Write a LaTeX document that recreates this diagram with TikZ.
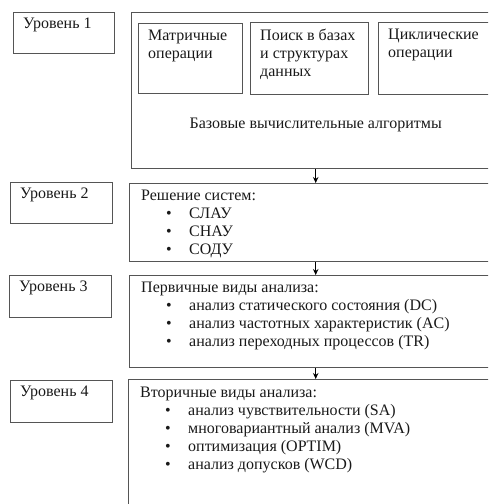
\documentclass[tikz,border=0pt]{standalone}
\usepackage{fontspec}
\setmainfont{Liberation Serif}
\usetikzlibrary{arrows.meta}
\definecolor{framegray}{RGB}{85,85,85}
\definecolor{textgray}{RGB}{25,25,25}
\tikzset{>={Stealth[length=6pt,width=5.5pt]}}
\tikzset{
  block/.style={draw=framegray, line width=1.4pt, rectangle, inner sep=0pt, anchor=north west},
  txt/.style={inner sep=0pt, text=textgray, anchor=base west, font=\fontsize{16}{18}\selectfont}
}
\newcommand{\bul}[1]{\makebox[23pt][l]{\textbullet}#1}

\begin{document}
\begin{tikzpicture}[x=1pt,y=-1pt]
    \useasboundingbox (0,0) rectangle (488,504);
    \clip (0,0) rectangle (488,504);
    % levels
    \node[block, minimum width=101pt, minimum height=41pt] (lev1) at (13,12) {};
    \node[block, minimum width=102pt, minimum height=41pt] (lev2) at (10,182) {};
    \node[block, minimum width=102pt, minimum height=42pt] (lev3) at (9,275) {};
    \node[block, minimum width=102pt, minimum height=42pt] (lev4) at (10,380) {};
    \foreach \n in {1,...,4}
        \node[txt] (levt\n) at ([shift={(10,16)}]lev\n.north west) {Уровень \n};
    % level 1
    \node[block, minimum width=368pt, minimum height=156pt] (base) at (131,12) {};
    \node[block, minimum width=104pt, minimum height=70pt] (matr) at (138,23) {};
    \node[block, minimum width=118pt, minimum height=72pt] (search) at (250,22) {};
    \node[block, minimum width=130pt, minimum height=72pt] (cycl) at (378,22) {};
    \node[txt, anchor=north west, align=left] (matrt) at ([shift={(10,6.5)}]matr.north west) {Матричные\\операции};
    \node[txt, anchor=north west, align=left] (searcht) at ([shift={(10,6.5)}]search.north west) {Поиск в базах\\и структурах\\данных};
    \node[txt, anchor=north west, align=left] (cyclt) at ([shift={(10,6.5)}]cycl.north west) {Циклические\\операции};
    \node[txt, anchor=base] (baset) at ([yshift=41pt]base.south) {Базовые вычислительные алгоритмы};
    % level 2
    \node[block, minimum width=372pt, minimum height=78pt] (sys) at (129,183) {};
    \node[txt] (syst) at ([shift={(12,17)}]sys.north west) {Решение систем:};
    \foreach \t [count=\i] in {СЛАУ,СНАУ,СОДУ}
        \node[txt] (sys\i) at ([shift={(37,17+18*\i)}]sys.north west) {\bul{\t}};
    % level 3
    \node[block, minimum width=372pt, minimum height=92pt] (prim) at (129,275) {};
    \node[txt] (primt) at ([shift={(12,17)}]prim.north west) {Первичные виды анализа:};
    \foreach \t [count=\i] in {анализ статического состояния (DC),анализ частотных характеристик (AC),анализ переходных процессов (TR)}
        \node[txt] (prim\i) at ([shift={(37,17+18*\i)}]prim.north west) {\bul{\t}};
    % level 4
    \node[block, minimum width=374pt, minimum height=140pt] (sec) at (128,379) {};
    \node[txt] (sect) at ([shift={(12,18)}]sec.north west) {Вторичные виды анализа:};
    \foreach \t [count=\i] in {анализ чувствительности (SA),многовариантный анализ (MVA),оптимизация (OPTIM),анализ допусков (WCD)}
        \node[txt] (sec\i) at ([shift={(37,18+18*\i)}]sec.north west) {\bul{\t}};
    % arrows
    \draw[->, line width=1.1pt] (base.south) -- (sys.north);
    \draw[->, line width=1.1pt] (sys.south) -- (prim.north);
    \draw[->, line width=1.1pt] (prim.south) -- (sec.north);
\end{tikzpicture}
\end{document}
